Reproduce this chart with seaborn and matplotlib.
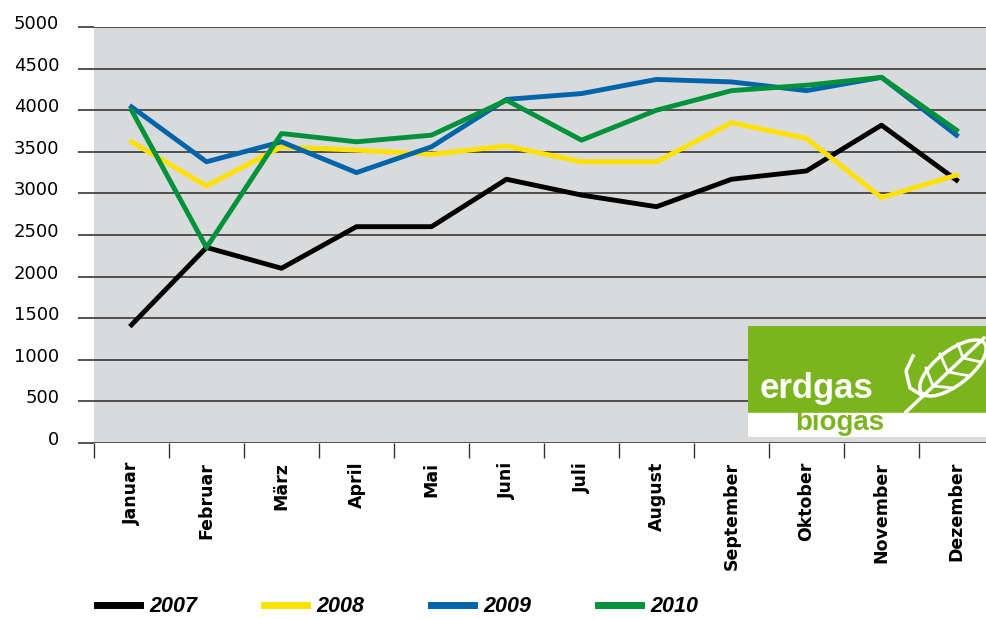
import matplotlib.pyplot as plt
import numpy as np
import pandas as pd
import seaborn as sns
from matplotlib.patches import Rectangle, Ellipse
from matplotlib.transforms import ScaledTranslation

months = ["Januar", "Februar", "März", "April", "Mai", "Juni", "Juli",
          "August", "September", "Oktober", "November", "Dezember"]
years = ["2007", "2008", "2009", "2010"]
v2007 = [1420, 2350, 2100, 2600, 2600, 3170, 2980, 2840, 3170, 3270, 3820, 3160]
v2008 = [3620, 3090, 3560, 3520, 3470, 3570, 3380, 3380, 3850, 3660, 2950, 3220]
v2009 = [4040, 3380, 3620, 3250, 3560, 4130, 4200, 4370, 4340, 4235, 4395, 3700]
v2010 = [4000, 2350, 3720, 3620, 3700, 4120, 3640, 4000, 4235, 4300, 4395, 3760]
colors = ["#000000", "#FFE100", "#0064AA", "#00923A"]

rows = []
for year, vals in zip(years, [v2007, v2008, v2009, v2010]):
    for i, v in enumerate(vals):
        rows.append({"pos": i, "value": v, "year": year})
df = pd.DataFrame(rows)

plt.rcParams["font.family"] = ["DejaVu Sans"]

fig = plt.figure(figsize=(9.87, 6.19), dpi=100)
ax = fig.add_axes([94 / 987, 1 - 443 / 619, 900 / 987, 416 / 619])
ax.set_facecolor("#D9DADC")

sns.lineplot(data=df, x="pos", y="value", hue="year", palette=colors,
             linewidth=3.5, ax=ax)

ax.set_xlim(-0.5, 11.5)
ax.set_ylim(0, 5000)
ax.set_yticks(np.arange(0, 5001, 500))
ax.set_xticks(np.arange(12))
ax.set_xticklabels(months, rotation=90, fontsize=12.5, fontweight="bold")
ax.set_xticks(np.arange(-0.5, 11, 1), minor=True)
ax.tick_params(axis="x", which="major", length=0, pad=13.5)
ax.tick_params(axis="x", which="minor", length=11, width=1, color="#333333")
ax.tick_params(axis="y", length=0, pad=25, labelsize=13)
ax.grid(axis="y", color="#444444", linewidth=1.3)
ax.set_axisbelow(True)
for s in ax.spines.values():
    s.set_visible(False)
ax.set_xlabel("")
ax.set_ylabel("")

# gridlines reach a little past the grey plot area on the left
ax.hlines(ax.get_yticks(), -16 / 900, 0, transform=ax.get_yaxis_transform(),
          color="#444444", linewidth=1.3, clip_on=False)

# y labels sit slightly above their gridline
offset = ScaledTranslation(0, 0.05, fig.dpi_scale_trans)
for tick in ax.yaxis.get_major_ticks():
    tick.label1.set_transform(tick.label1.get_transform() + offset)

sns.move_legend(ax, "center left", bbox_to_anchor=(97 / 987, 1 - 607 / 619),
                bbox_transform=fig.transFigure, ncol=4, frameon=False,
                title=None, borderpad=0, borderaxespad=0, handlelength=2.0,
                handletextpad=0.43, columnspacing=3.1,
                prop={"family": "Liberation Sans", "weight": "bold",
                      "style": "italic", "size": 15.5})
for ln in ax.get_legend().get_lines():
    ln.set_linewidth(5)

# erdgas / biogas logo
lax = fig.add_axes([748 / 987, 1 - 437 / 619, 239 / 987, 111 / 619])
lax.set_xlim(0, 239)
lax.set_ylim(111, 0)
lax.axis("off")
lax.add_patch(Rectangle((0, 0), 239, 87, color="#7AB51D"))
lax.add_patch(Rectangle((0, 87), 239, 24, color="white"))
lax.text(12, 72, "erdgas", color="white", fontsize=25, fontweight="bold",
         family="Liberation Sans", va="baseline")
lax.text(92, 104, "biogas", color="#7AB51D", fontsize=20, fontweight="bold",
         family="Liberation Sans", va="baseline", ha="center")
lax.add_patch(Ellipse((205, 42), 80, 34, angle=-38, fill=False,
                      edgecolor="white", linewidth=2.5))
lax.plot([158, 236], [86, 12], color="white", lw=2.5)
for (x0, y0), (x1, y1) in [((185, 60), (178, 42)), ((200, 46), (192, 28)),
                           ((215, 32), (210, 18)), ((185, 60), (205, 62)),
                           ((200, 46), (222, 50)), ((215, 32), (233, 36))]:
    lax.plot([x0, x1], [y0, y1], color="white", lw=2)
lax.plot([165, 158, 162, 175], [30, 45, 62, 70], color="white", lw=2.5)

fig.savefig("out.png", dpi=100)
